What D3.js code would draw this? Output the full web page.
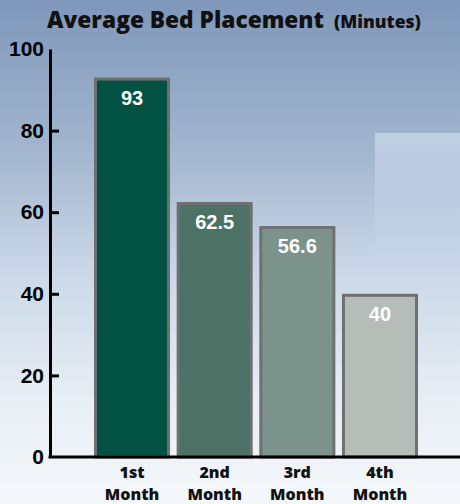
<!DOCTYPE html>
<html>
<head>
<meta charset="utf-8">
<script src="https://cdn.jsdelivr.net/npm/d3@7"></script>
<style>
html,body{margin:0;padding:0;background:#fff;}
svg{display:block;}
</style>
</head>
<body>
<div id="chart"></div>
<script>
const categories = [["1st","Month"],["2nd","Month"],["3rd","Month"],["4th","Month"]];
const values = [93, 62.5, 56.6, 40];
const valueLabels = ["93", "62.5", "56.6", "40"];
const barColors = ["#015243", "#4b7264", "#7b938a", "#b4bdb8"];
const yTicks = [0, 20, 40, 60, 80, 100];

const W = 460, H = 504;
const svg = d3.select("#chart").append("svg").attr("width", W).attr("height", H);
const defs = svg.append("defs");
const bg = defs.append("linearGradient").attr("id","bg").attr("x1",0).attr("y1",0).attr("x2",0).attr("y2",1);
[[0,"#7e97ba"],[0.3,"#a3b6cf"],[0.55,"#ccd9e8"],[0.8,"#e8eef5"],[1,"#f5f8fb"]].forEach(s=>bg.append("stop").attr("offset",s[0]).attr("stop-color",s[1]));
const glow = defs.append("linearGradient").attr("id","glow").attr("x1",0).attr("y1",0).attr("x2",0).attr("y2",1);
[[0,"#d4e3f4",0.6],[0.4,"#d4e3f4",0.35],[1,"#d4e3f4",0]].forEach(s=>glow.append("stop").attr("offset",s[0]).attr("stop-color",s[1]).attr("stop-opacity",s[2]));

svg.append("rect").attr("width",W).attr("height",H).attr("fill","url(#bg)");
svg.append("rect").attr("x",375).attr("y",133).attr("width",85).attr("height",140).attr("fill","url(#glow)");

const y = d3.scaleLinear().domain([0,100]).range([457,49]);
const x = d3.scaleBand().domain(d3.range(categories.length)).range([90.7,421.3]).paddingInner(0.08).paddingOuter(0.04);

// bars
const bw = 3;
svg.append("g").selectAll("rect").data(values).join("rect")
  .attr("x",(d,i)=>x(i)+bw/2)
  .attr("y",d=>y(d)+bw/2)
  .attr("width",x.bandwidth()-bw)
  .attr("height",d=>y(0)-y(d)-bw/2)
  .attr("fill",(d,i)=>barColors[i])
  .attr("stroke","#707070")
  .attr("stroke-width",bw);

// value labels
svg.append("g").selectAll("text").data(values).join("text")
  .attr("x",(d,i)=>x(i)+x.bandwidth()/2)
  .attr("y",d=>y(d)+27)
  .attr("text-anchor","middle")
  .attr("fill","#ffffff")
  .style("font-family","'Liberation Sans', Arial, sans-serif")
  .style("font-weight","bold")
  .style("font-size","20px")
  .text((d,i)=>valueLabels[i]);

// y axis
const yAxis = d3.axisLeft(y).tickValues(yTicks).tickFormat(d3.format("d")).tickSizeInner(-9).tickSizeOuter(0).tickPadding(6);
const ga = svg.append("g").attr("transform","translate(50,0)").call(yAxis);
ga.select(".domain").attr("stroke","#000").attr("stroke-width",3);
ga.selectAll(".tick line").attr("stroke","#000").attr("stroke-width",3).filter(d=>d===100||d===0).remove();
ga.selectAll(".tick text").attr("fill","#000")
  .style("font-family","'Liberation Sans', Arial, sans-serif")
  .style("font-weight","bold").style("font-size","21px");

// x axis line
svg.append("line").attr("x1",48.5).attr("x2",460).attr("y1",y(0)).attr("y2",y(0)).attr("stroke","#000").attr("stroke-width",3);

// category labels
const cl = svg.append("g").selectAll("text").data(categories).join("text")
  .attr("x",(d,i)=>x(i)+x.bandwidth()/2)
  .attr("text-anchor","middle")
  .attr("fill","#111")
  .style("font-family","'Open Sans', sans-serif")
  .style("font-weight","800")
  .style("font-size","16px");
cl.selectAll("tspan").data(d=>d).join("tspan")
  .attr("x",function(){return this.parentNode.getAttribute("x");})
  .attr("y",(d,j)=>j===0?478:500)
  .text(d=>d);

// title (sized to fit the reference widths)
function fitText(sel, targetW, baseSize){
  sel.style("font-size", baseSize + "px");
  const w = sel.node().getComputedTextLength();
  if (w > 0) sel.style("font-size", (baseSize * targetW / w).toFixed(2) + "px");
}
const t1 = svg.append("text").attr("x",47).attr("y",28).attr("fill","#111")
  .style("font-family","'Open Sans', sans-serif").style("font-weight","800").text("Average Bed Placement");
fitText(t1, 277, 25);
const t2 = svg.append("text").attr("x",334).attr("y",28).attr("fill","#111")
  .style("font-family","'Open Sans', sans-serif").style("font-weight","800").text("(Minutes)");
fitText(t2, 87, 17);
</script>
</body>
</html>
